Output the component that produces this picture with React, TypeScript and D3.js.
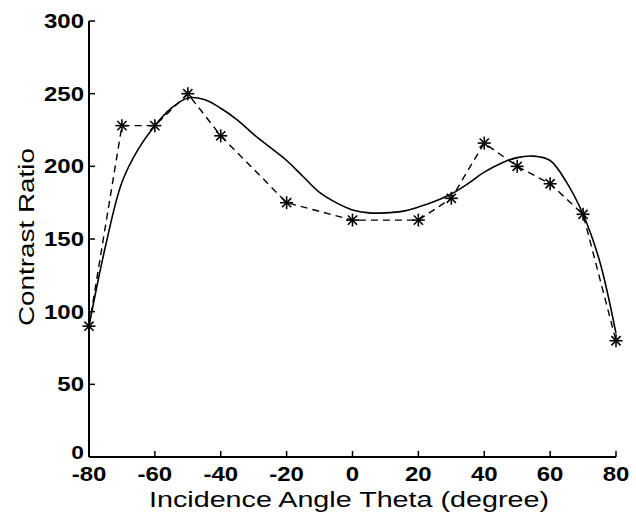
import React from "react";
import * as d3 from "d3";

const measAngles = [-80, -70, -60, -50, -40, -20, 0, 20, 30, 40, 50, 60, 70, 80];
const measRatio = [90, 228, 228, 250, 221, 175, 163, 163, 178, 216, 200, 188, 167, 80];

const fitAngles = [-80, -75, -70, -65, -60, -55, -50, -45, -40, -35, -30, -25, -20, -15, -10, -5, 0, 5, 10, 15, 20, 25, 30, 35, 40, 45, 50, 55, 60, 65, 70, 75, 80];
const fitRatio = [90, 145, 189, 212, 228, 240, 247, 246, 240, 232, 222, 213, 204, 193, 182, 175, 170, 168, 168, 169, 172, 176, 181, 188, 196, 202, 206, 207, 204, 189, 167, 135, 85];

const xTicks = [-80, -60, -40, -20, 0, 20, 40, 60, 80];
const yTicks = [0, 50, 100, 150, 200, 250, 300];

export default function App() {
  const W = 636, H = 514;
  const x = d3.scaleLinear().domain([-80, 80]).range([89, 616]);
  const y = d3.scaleLinear().domain([0, 300]).range([457, 21]);
  const font = "Arial, 'Liberation Sans', Helvetica, sans-serif";

  const fitLine = d3.line<number>().x((_, i) => x(fitAngles[i])).y((d) => y(d)).curve(d3.curveCatmullRom.alpha(0.5));
  const measLine = d3.line<number>().x((_, i) => x(measAngles[i])).y((d) => y(d));

  const s = 6.5;
  const d2 = 4.6;

  return (
    <svg width={W} height={H} style={{ position: "absolute", left: 0, top: 0 }}>
      <rect width={W} height={H} fill="#fff" />
      <path d={fitLine(fitRatio) || ""} fill="none" stroke="#000" strokeWidth={1.6} />
      <path d={measLine(measRatio) || ""} fill="none" stroke="#000" strokeWidth={1.4} strokeDasharray="7,5" />
      {measRatio.map((v, i) => {
        const cx = x(measAngles[i]);
        const cy = y(v);
        return (
          <g key={i} stroke="#000" strokeWidth={1.6}>
            <line x1={cx - s} y1={cy} x2={cx + s} y2={cy} />
            <line x1={cx} y1={cy - s} x2={cx} y2={cy + s} />
            <line x1={cx - d2} y1={cy - d2} x2={cx + d2} y2={cy + d2} />
            <line x1={cx - d2} y1={cy + d2} x2={cx + d2} y2={cy - d2} />
          </g>
        );
      })}
      <line x1={89} y1={y(0)} x2={89} y2={y(300)} stroke="#000" strokeWidth={2} />
      <line x1={89} y1={y(0)} x2={616} y2={y(0)} stroke="#000" strokeWidth={2} />
      {yTicks.map((t) => (
        <g key={t}>
          <line x1={89} x2={95} y1={y(t)} y2={y(t)} stroke="#000" strokeWidth={1.5} />
          <text transform={`translate(84,${y(t) - (t === 0 ? 5 : 0)}) scale(1.2,1)`} dy="0.35em" textAnchor="end" fontFamily={font} fontSize={t === 0 ? 19 : 20} fontWeight="bold">{t}</text>
        </g>
      ))}
      {xTicks.map((t) => (
        <g key={t}>
          <line x1={x(t)} x2={x(t)} y1={y(0)} y2={y(0) - 6} stroke="#000" strokeWidth={1.5} />
          <text transform={`translate(${x(t)},481) scale(1.2,1)`} textAnchor="middle" fontFamily={font} fontSize={20} fontWeight="bold">{t}</text>
        </g>
      ))}
      <text x={349} y={507} textAnchor="middle" fontFamily={font} fontSize={22} textLength={400} lengthAdjust="spacingAndGlyphs">Incidence Angle Theta (degree)</text>
      <text transform="translate(34,237) rotate(-90)" textAnchor="middle" fontFamily={font} fontSize={22} textLength={178} lengthAdjust="spacingAndGlyphs">Contrast Ratio</text>
    </svg>
  );
}
